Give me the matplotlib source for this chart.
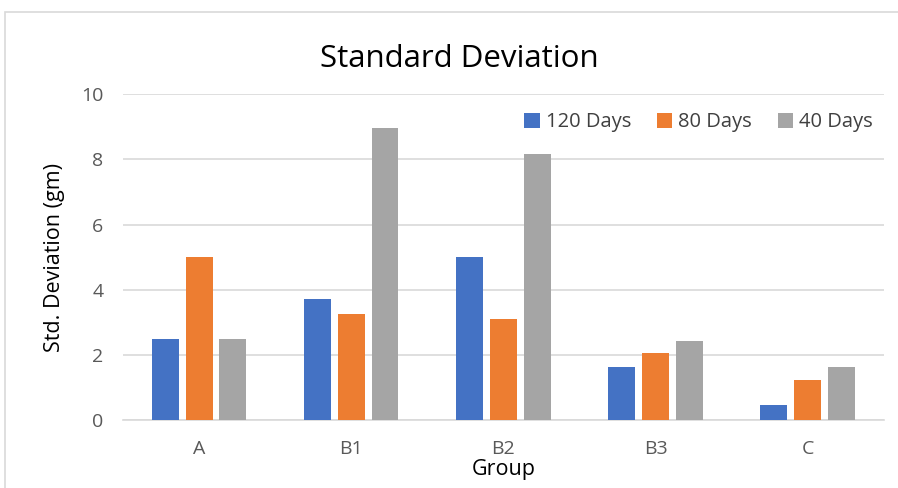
import numpy as np
import matplotlib
matplotlib.use('Agg')
import matplotlib.pyplot as plt
from matplotlib.patches import Rectangle

grupos = ['A', 'B1', 'B2', 'B3', 'C']
series = ['120 Days', '80 Days', '40 Days']
dias_120 = [2.5, 3.73, 5.0, 1.63, 0.47]
dias_80 = [5.0, 3.25, 3.1, 2.05, 1.24]
dias_40 = [2.5, 8.97, 8.16, 2.44, 1.63]
colores = ['#4472C4', '#ED7D31', '#A5A5A5']

plt.rcParams['font.family'] = ['Open Sans', 'DejaVu Sans']

fig = plt.figure(figsize=(8.98, 4.88), dpi=100)
ax = fig.add_axes([0.137, 0.139, 0.847, 0.668])

# marco del gráfico
fig.patches.append(Rectangle((5 / 898, -0.1), 1.2, 1 - 12 / 488 + 0.1,
                             transform=fig.transFigure, fill=False,
                             edgecolor='#D9D9D9', linewidth=1.2))

x = np.arange(len(grupos))
paso = 0.222
ancho = 0.177
for i, (valores, nombre) in enumerate(zip([dias_120, dias_80, dias_40], series)):
    ax.bar(x + (i - 1) * paso, valores, ancho, color=colores[i], label=nombre, zorder=3)

ax.set_xlim(-0.5, 4.5)
ax.set_ylim(0, 10)
ax.set_yticks([0, 2, 4, 6, 8, 10])
ax.set_xticks(x)
ax.set_xticklabels(grupos)
ax.grid(axis='y', color='#D9D9D9', linewidth=1.2, zorder=0)
for lado in ['top', 'right', 'left']:
    ax.spines[lado].set_visible(False)
ax.spines['bottom'].set_color('#D9D9D9')
ax.spines['bottom'].set_linewidth(1.2)
ax.tick_params(length=0, labelsize=14, colors='#595959')
ax.tick_params(axis='x', pad=14)
ax.tick_params(axis='y', pad=14)

fig.text(0.512, 0.88, 'Standard Deviation', ha='center', va='center', fontsize=22.5, color='#000000')
ax.set_ylabel('Std. Deviation (gm)', fontsize=15.5, color='#000000', labelpad=12)
ax.set_xlabel('Group', fontsize=15.5, color='#000000', labelpad=1)

ax.legend(loc='upper right', bbox_to_anchor=(1.01, 1.0), ncol=3, frameon=False,
          fontsize=14.5, handlelength=0.75, handleheight=0.75, handletextpad=0.3,
          columnspacing=1.3, labelcolor='#404040')

fig.savefig('out.png', dpi=100, facecolor='white')
